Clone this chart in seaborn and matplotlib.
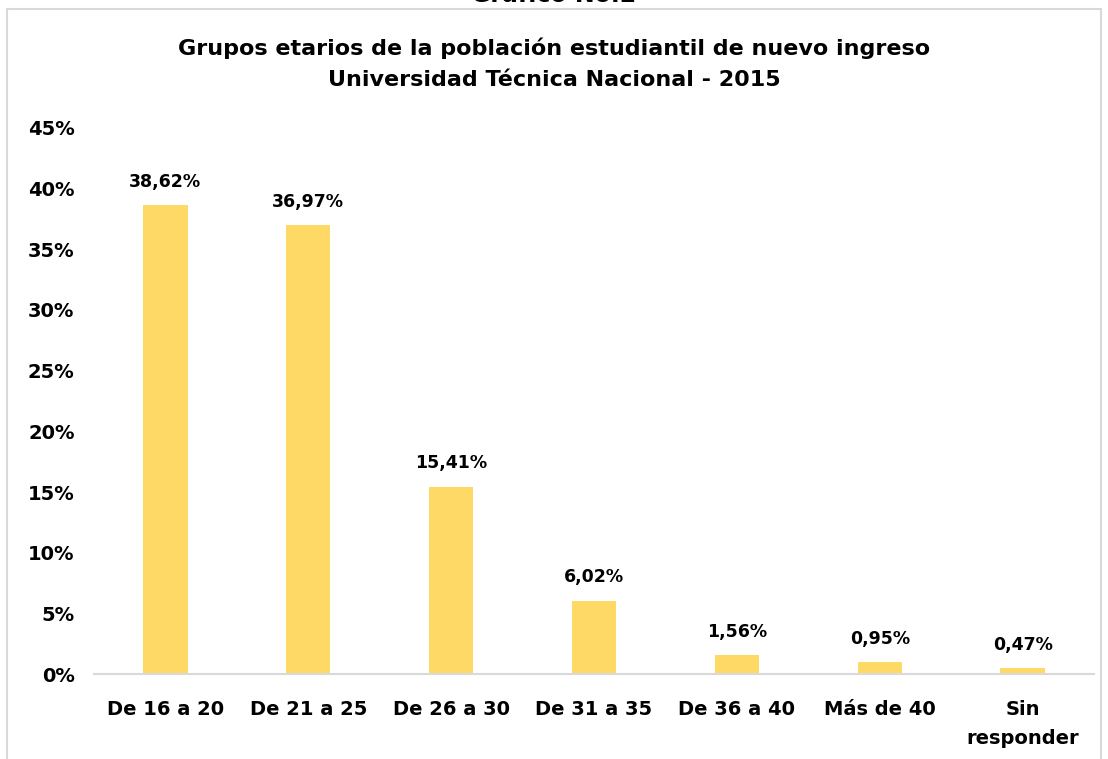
import matplotlib
matplotlib.use("Agg")
import matplotlib.pyplot as plt
import seaborn as sns
import pandas as pd
from matplotlib.patches import Rectangle

# Data
grupos = ["De 16 a 20", "De 21 a 25", "De 26 a 30", "De 31 a 35", "De 36 a 40", "Más de 40", "Sin\nresponder"]
porcentajes = [38.62, 36.97, 15.41, 6.02, 1.56, 0.95, 0.47]
ticks_y = [0, 5, 10, 15, 20, 25, 30, 35, 40, 45]

df = pd.DataFrame({"grupo": grupos, "pct": porcentajes})

sns.set_style("white")
plt.rcParams["font.family"] = ["DejaVu Sans"]
plt.rcParams["text.color"] = "black"
plt.rcParams["xtick.color"] = "black"
plt.rcParams["ytick.color"] = "black"

fig = plt.figure(figsize=(11.08, 7.59), dpi=100)
ax = fig.add_axes([94 / 1108, 1 - 674 / 759, 1000 / 1108, (674 - 128) / 759])

sns.barplot(data=df, x="grupo", y="pct", color="#FFD966", width=0.31, ax=ax,
            saturation=1, linewidth=0)

for i, v in enumerate(porcentajes):
    ax.text(i, v + 1.2, f"{v:.2f}%".replace(".", ","), ha="center", va="bottom",
            fontsize=12.5, fontweight="bold", color="black")

ax.set_ylim(0, 45)
ax.set_xlim(-0.5, 6.5)
ax.set_yticks(ticks_y)
ax.set_yticklabels([f"{t}%" for t in ticks_y], fontsize=14, fontweight="bold")
ax.set_xticks(range(len(grupos)))
ax.set_xticklabels(grupos, fontsize=14, fontweight="bold", linespacing=1.65)
ax.tick_params(axis="y", length=0, pad=14)
ax.tick_params(axis="x", length=0, pad=19)
ax.set_xlabel("")
ax.set_ylabel("")
for s in ["top", "right", "left"]:
    ax.spines[s].set_visible(False)
ax.spines["bottom"].set_color("#d9d9d9")
ax.spines["bottom"].set_linewidth(1.5)

# chart border and titles
fig.patches.append(Rectangle((7 / 1108, -0.05), 1094 / 1108, 1 - 9 / 759 + 0.05,
                             transform=fig.transFigure, fill=False,
                             edgecolor="#d9d9d9", linewidth=1.5))
fig.text(0.5, 1 + 5 / 759, "Gráfico No.2", ha="center", va="center",
         fontsize=17, fontweight="bold")
fig.text(0.5, 1 - 48 / 759, "Grupos etarios de la población estudiantil de nuevo ingreso",
         ha="center", va="center", fontsize=16, fontweight="bold")
fig.text(0.5, 1 - 80 / 759, "Universidad Técnica Nacional - 2015",
         ha="center", va="center", fontsize=16, fontweight="bold")

fig.savefig("out.png", dpi=100)
